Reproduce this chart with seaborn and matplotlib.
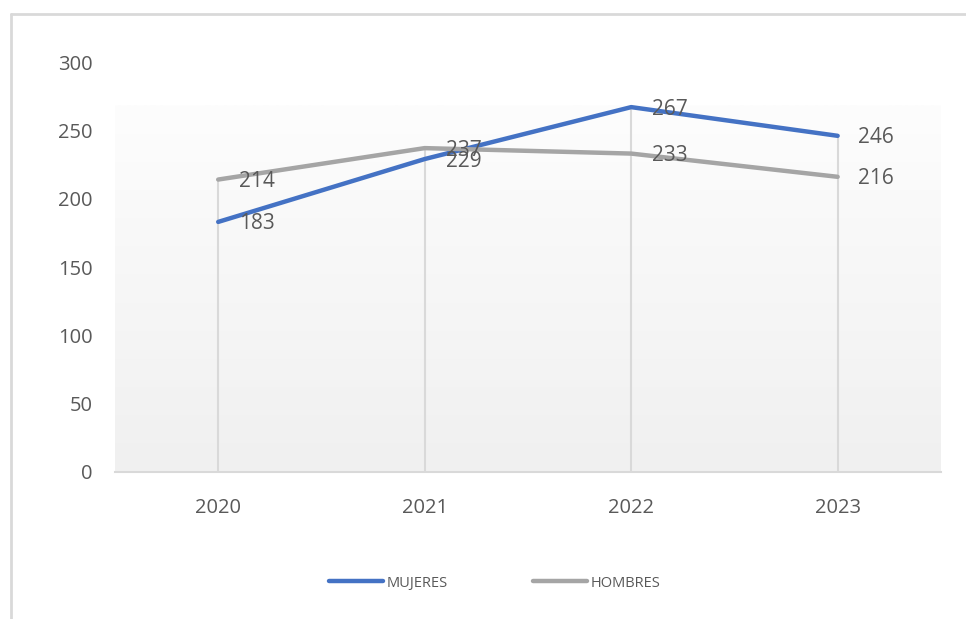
import numpy as np
import pandas as pd
import matplotlib
matplotlib.use("Agg")
import matplotlib.pyplot as plt
from matplotlib.lines import Line2D
from matplotlib.colors import LinearSegmentedColormap
import seaborn as sns

years = [2020, 2021, 2022, 2023]
mujeres = [183, 229, 267, 246]
hombres = [214, 237, 233, 216]
series_names = ["MUJERES", "HOMBRES"]
series_colors = ["#4472C4", "#A5A5A5"]
y_ticks = [0, 50, 100, 150, 200, 250, 300]

df = pd.DataFrame({
    "year": years * 2,
    "value": mujeres + hombres,
    "serie": [series_names[0]] * len(years) + [series_names[1]] * len(years),
})

sns.set_theme(style="white")
plt.rcParams["font.family"] = ["Open Sans", "DejaVu Sans"]

fig = plt.figure(figsize=(9.66, 6.19), dpi=100)
ax = fig.add_axes([0.119, 0.2375, 0.855, 0.6623])

# gradient plot-area fill
grad = np.linspace(0, 1, 256).reshape(-1, 1)
cmap = LinearSegmentedColormap.from_list("g", ["#f0f0f0", "#fdfdfd"])
ax.imshow(grad, aspect="auto", cmap=cmap, origin="lower",
          extent=(years[0] - 0.5, years[-1] + 0.5, 0, 268), zorder=0)

# drop lines
tops = [max(a, b) for a, b in zip(mujeres, hombres)]
ax.vlines(years, 0, tops, colors="#d9d9d9", linewidth=1.5, zorder=1)

sns.lineplot(data=df, x="year", y="value", hue="serie",
             palette=dict(zip(series_names, series_colors)),
             linewidth=3.2, ax=ax, legend=False, zorder=3,
             solid_capstyle="round")

for vals in (mujeres, hombres):
    for x, v in zip(years, vals):
        ax.annotate(str(v), (x, v), xytext=(15, -1.5), textcoords="offset points",
                    ha="left", va="center", fontsize=15, color="#595959",
                    zorder=4)

ax.set_xlim(years[0] - 0.5, years[-1] + 0.5)
ax.set_ylim(0, 300)
ax.set_xticks(years)
ax.set_xticklabels([str(y) for y in years])
ax.set_yticks(y_ticks)
ax.set_yticklabels([str(t) for t in y_ticks])
ax.tick_params(axis="both", length=0, labelsize=14.5, labelcolor="#595959")
ax.tick_params(axis="y", pad=16)
ax.tick_params(axis="x", pad=19)
ax.set_xlabel("")
ax.set_ylabel("")
for s in ["top", "right", "left"]:
    ax.spines[s].set_visible(False)
ax.spines["bottom"].set_color("#d9d9d9")
ax.spines["bottom"].set_linewidth(1.5)
ax.spines["bottom"].set_zorder(2)
ax.grid(False)

handles = [Line2D([0], [0], color=c, linewidth=3.2, solid_capstyle="round")
           for c in series_colors]
leg = fig.legend(handles, series_names, loc="center", bbox_to_anchor=(0.512, 0.058),
                 ncol=2, frameon=False, fontsize=10.5, handlelength=3.7,
                 handletextpad=0.25, columnspacing=5.8)
for t in leg.get_texts():
    t.set_color("#595959")

# outer frame
fig.add_artist(Line2D([0.0114, 0.0114], [0.0, 0.977], transform=fig.transFigure,
                      color="#d9d9d9", linewidth=2))
fig.add_artist(Line2D([0.0114, 1.0], [0.977, 0.977], transform=fig.transFigure,
                      color="#d9d9d9", linewidth=2))

fig.savefig("out.png", dpi=100)
